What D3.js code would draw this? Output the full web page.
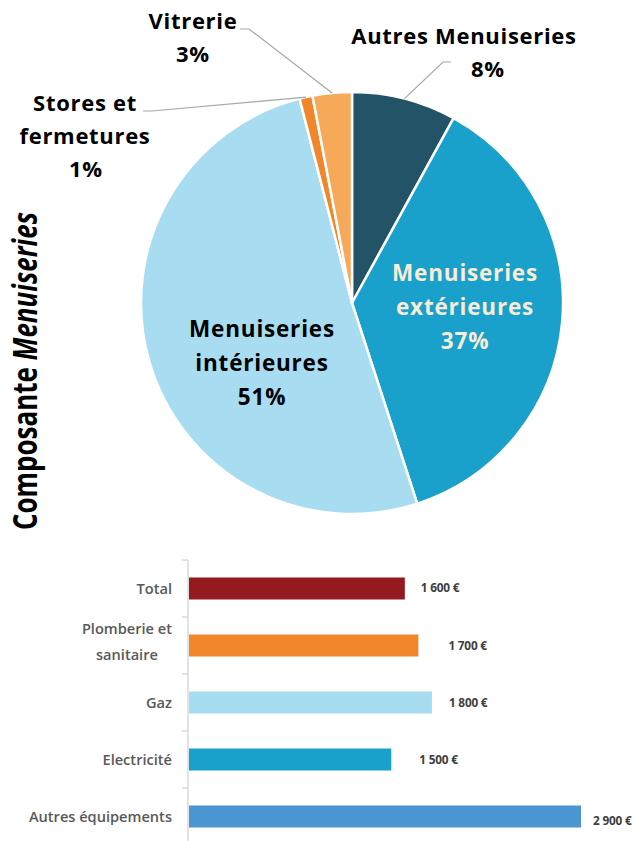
<!DOCTYPE html>
<html>
<head>
<meta charset="utf-8">
<script src="https://cdn.jsdelivr.net/npm/d3@7"></script>
<style>
  html, body { margin: 0; padding: 0; background: #ffffff; }
  svg { display: block; }
</style>
</head>
<body>
<svg id="chart" width="637" height="841"></svg>
<script>
// ---- Pie: share of each joinery sub-component ----
const pieCategories = ["Autres Menuiseries", "Menuiseries extérieures", "Menuiseries intérieures", "Stores et fermetures", "Vitrerie"];
const pieLabelLines = [["Autres Menuiseries"], ["Menuiseries", "extérieures"], ["Menuiseries", "intérieures"], ["Stores et", "fermetures"], ["Vitrerie"]];
const pieValues = [8, 37, 51, 1, 3];
const pieColors = ["#225366", "#19a0cb", "#a8dcf1", "#f1862b", "#f7a95a"];

// ---- Bars: average cost per equipment item ----
const barCategories = ["Total", "Plomberie et sanitaire", "Gaz", "Electricité", "Autres équipements"];
const barLabelLines = [["Total"], ["Plomberie et", "sanitaire"], ["Gaz"], ["Electricité"], ["Autres équipements"]];
const barValues = [1600, 1700, 1800, 1500, 2900];
const barColors = ["#951a1f", "#f1862b", "#a8dcf1", "#19a0cb", "#4b95d0"];
const euro = v => d3.format(",")(v).replace(/,/g, " ") + " €";

const svg = d3.select("#chart");
const FONT = "'Open Sans', 'DejaVu Sans', sans-serif";

// ================= PIE =================
const cx = 352, cy = 303, R = 211;
const pie = d3.pie().sort(null).value(d => d);
const arcs = pie(pieValues);
const arc = d3.arc().innerRadius(0).outerRadius(R);
const edgeArc = d3.arc().innerRadius(R).outerRadius(R);

const gPie = svg.append("g").attr("transform", `translate(${cx},${cy})`);
gPie.selectAll("path.slice")
  .data(arcs)
  .join("path")
  .attr("class", "slice")
  .attr("d", arc)
  .attr("fill", (d, i) => pieColors[i])
  .attr("stroke", "#ffffff")
  .attr("stroke-width", 2.5)
  .attr("stroke-linejoin", "round");

// Labels placed inside the two large slices
const insideLabels = [
  { i: 1, x: 465, y: 273, color: "#f8ecd6" },
  { i: 2, x: 262, y: 329, color: "#000000" }
];
insideLabels.forEach(l => {
  const t = svg.append("text")
    .attr("text-anchor", "middle")
    .attr("font-family", FONT)
    .attr("font-weight", 700)
    .attr("font-size", 22.5)
    .attr("letter-spacing", 0.8)
    .attr("fill", l.color);
  const lines = pieLabelLines[l.i].concat([pieValues[l.i] + "%"]);
  lines.forEach((s, k) => {
    t.append("tspan").attr("x", l.x).attr("y", l.y + 8 + k * 34).text(s);
  });
});

// Labels placed outside the small slices, with leader lines
const outsideLabels = [
  { i: 0, x: 464, y: 44, pctX: 488, lineStart: [451, 62], elbow: [443, 62] },
  { i: 4, x: 193, y: 29, pctX: 193, lineStart: [240, 29], elbow: [249, 29] },
  { i: 3, x: 85,  y: 111, pctX: 86, lineStart: [143, 111], elbow: [152, 111] }
];
outsideLabels.forEach(l => {
  const [ex, ey] = edgeArc.centroid(arcs[l.i]);
  svg.append("polyline")
    .attr("points", [l.lineStart, l.elbow, [cx + ex, cy + ey]].map(p => p.join(",")).join(" "))
    .attr("fill", "none")
    .attr("stroke", "#a6a6a6")
    .attr("stroke-width", 1.2);
  const t = svg.append("text")
    .attr("text-anchor", "middle")
    .attr("font-family", FONT)
    .attr("font-weight", 700)
    .attr("font-size", 22)
    .attr("letter-spacing", 0.7)
    .attr("fill", "#000000");
  const lines = pieLabelLines[l.i];
  lines.forEach((s, k) => {
    t.append("tspan").attr("x", l.x).attr("y", l.y + k * 33).text(s);
  });
  t.append("tspan").attr("x", l.pctX).attr("y", l.y + lines.length * 33).text(pieValues[l.i] + "%");
});

// Vertical side title
const title = svg.append("text")
  .attr("transform", "translate(37,530) rotate(-90)")
  .attr("font-family", FONT)
  .attr("font-weight", 700)
  .attr("font-size", 33.5)
  .attr("fill", "#000000")
  .attr("textLength", 318)
  .attr("lengthAdjust", "spacingAndGlyphs");
title.append("tspan").text("Composante ");
title.append("tspan").attr("font-style", "italic").text("Menuiseries");

// ================= BARS =================
const x = d3.scaleLinear().domain([0, 2900]).range([188, 581]);
const y = d3.scaleBand().domain(barCategories).range([560, 845]).paddingInner(0.614).paddingOuter(0.307);
const gap = (y.step() - y.bandwidth()) / 2;

svg.append("g")
  .selectAll("rect")
  .data(barValues)
  .join("rect")
  .attr("x", x(0) + 1)
  .attr("y", (d, i) => y(barCategories[i]))
  .attr("width", d => x(d) - x(0) - 1)
  .attr("height", y.bandwidth())
  .attr("fill", (d, i) => barColors[i]);

// Category axis: line plus separator ticks between bands
const gAxis = svg.append("g");
gAxis.append("line")
  .attr("x1", x(0)).attr("x2", x(0))
  .attr("y1", y.range()[0]).attr("y2", y.range()[1])
  .attr("stroke", "#d0d0d0").attr("stroke-width", 1.2);
const separators = barCategories.map(c => y(c) - gap).concat([y.range()[1]]);
gAxis.selectAll("line.sep")
  .data(separators)
  .join("line")
  .attr("class", "sep")
  .attr("x1", x(0) - 6).attr("x2", x(0))
  .attr("y1", d => d).attr("y2", d => d)
  .attr("stroke", "#d0d0d0").attr("stroke-width", 1.2);

// Category labels (multi-line labels centred on each other, right-aligned block)
barCategories.forEach((c, i) => {
  const lines = barLabelLines[i];
  const mid = y(c) + y.bandwidth() / 2;
  const lh = 26;
  const g = svg.append("g");
  const texts = lines.map((s, k) => g.append("text")
    .attr("font-family", FONT)
    .attr("font-weight", 600)
    .attr("font-size", 14.6)
    .attr("letter-spacing", 0)
    .attr("fill", "#595959")
    .attr("text-anchor", "middle")
    .attr("y", mid + 5 + (k - (lines.length - 1) / 2) * lh - (lines.length > 1 ? 4 : 0))
    .text(s));
  const maxW = d3.max(texts, t => t.node().getComputedTextLength());
  texts.forEach(t => t.attr("x", 172 - maxW / 2));
});

// Value labels beside each bar
const valueLabelShift = [[16, -1], [30, 0], [17, 0], [28, 0], [12, 4]];
svg.append("g")
  .selectAll("text")
  .data(barValues)
  .join("text")
  .attr("x", (d, i) => x(d) + valueLabelShift[i][0])
  .attr("y", (d, i) => y(barCategories[i]) + y.bandwidth() / 2 + 4 + valueLabelShift[i][1])
  .attr("font-family", FONT)
  .attr("font-weight", 700)
  .attr("font-size", 11.8)
  .attr("letter-spacing", -0.2)
  .attr("fill", "#404040")
  .text(d => euro(d));
</script>
</body>
</html>
